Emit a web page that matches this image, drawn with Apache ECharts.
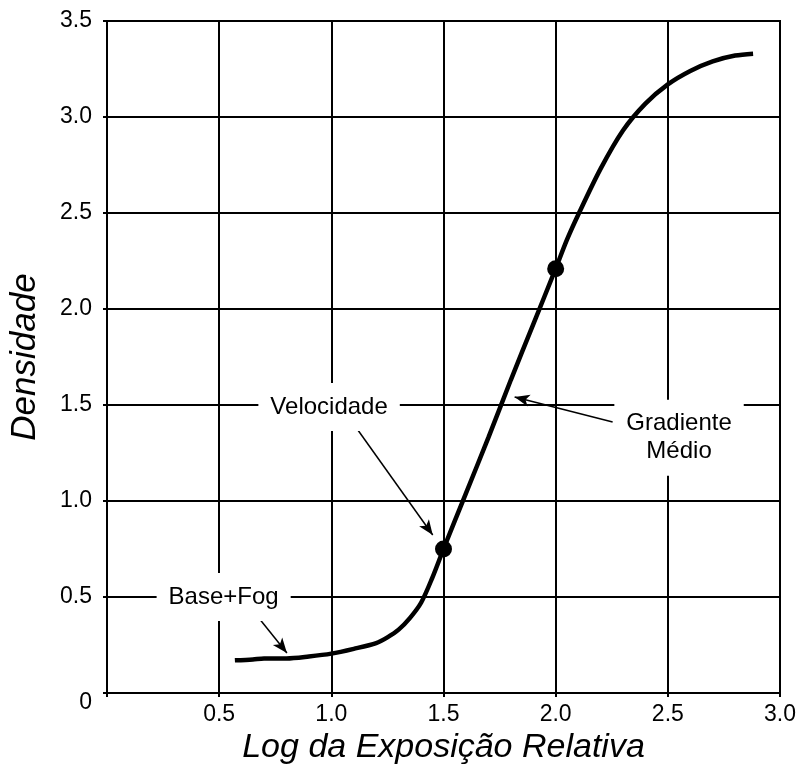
<!DOCTYPE html>
<html>
<head>
<meta charset="utf-8">
<script src="https://cdn.jsdelivr.net/npm/echarts@6/dist/echarts.min.js"></script>
<style>
  html, body { margin: 0; padding: 0; background: #fff; }
  #chart { width: 801px; height: 774px; }
</style>
</head>
<body>
<div id="chart"></div>
<script>
// curva característica (log exposição x densidade)
const logExposure = [0.57, 0.65, 0.7, 0.8, 0.9, 1.0, 1.1, 1.2, 1.25, 1.3, 1.35, 1.4, 1.45, 1.5,
  1.6, 1.7, 1.8, 1.9, 2.0, 2.05, 2.1, 2.2, 2.3, 2.4, 2.5, 2.6, 2.7, 2.8, 2.88]
const density = [0.17, 0.175, 0.18, 0.18, 0.19, 0.205, 0.23, 0.26, 0.29, 0.33, 0.39, 0.47, 0.6, 0.75,
  1.04, 1.33, 1.63, 1.92, 2.21, 2.36, 2.49, 2.73, 2.93, 3.07, 3.17, 3.24, 3.29, 3.32, 3.33]

// pontos marcados (velocidade e gradiente)
const keyX = [1.5, 2.0]
const keyY = [0.75, 2.21]

// rótulos e setas
const labelTexts = ['Velocidade', 'Base+Fog', 'Gradiente\nMédio']
const labelX = [0.99, 0.52, 2.55]
const labelY = [1.49, 0.5, 1.33]
const arrowFrom = [[1.096, 1.406], [0.641, 0.443], [2.254, 1.411]]
const arrowTo = [[1.452, 0.823], [0.802, 0.208], [1.817, 1.542]]

const FONT = 'Liberation Sans, Arial, sans-serif'

const chart = echarts.init(document.getElementById('chart'))

const option = {
  animation: false,
  backgroundColor: '#fff',
  grid: {
    left: 107,
    right: 21,
    top: 21,
    bottom: 81,
    show: true,
    borderColor: '#000',
    borderWidth: 2
  },
  xAxis: {
    type: 'value',
    min: 0,
    max: 3,
    interval: 0.5,
    name: 'Log da Exposição Relativa',
    nameLocation: 'middle',
    nameGap: 38,
    nameTextStyle: { fontFamily: FONT, fontStyle: 'italic', fontSize: 34, color: '#000' },
    axisLine: { lineStyle: { color: '#000', width: 2 } },
    axisTick: { show: true, length: 4, lineStyle: { color: '#000', width: 2 } },
    axisLabel: {
      fontFamily: FONT,
      fontSize: 23,
      color: '#000',
      margin: 10,
      formatter: v => (v === 0 ? '' : v.toFixed(1))
    },
    splitLine: { show: true, lineStyle: { color: '#000', width: 2 } }
  },
  yAxis: {
    type: 'value',
    min: 0,
    max: 3.5,
    interval: 0.5,
    name: 'Densidade',
    nameLocation: 'middle',
    nameGap: 64,
    nameTextStyle: { fontFamily: FONT, fontStyle: 'italic', fontSize: 35, color: '#000' },
    axisLine: { lineStyle: { color: '#000', width: 2 } },
    axisTick: { show: true, length: 4, lineStyle: { color: '#000', width: 2 } },
    axisLabel: {
      fontFamily: FONT,
      fontSize: 23,
      color: '#000',
      margin: 15,
      formatter: v => (v === 0 ? '{zero|0}' : v.toFixed(1)),
      rich: {
        zero: { fontFamily: FONT, fontSize: 23, color: '#000', padding: [20, 0, 0, 0] }
      }
    },
    splitLine: { show: true, lineStyle: { color: '#000', width: 2 } }
  },
  series: [
    {
      type: 'line',
      data: logExposure.map((x, i) => [x, density[i]]),
      smooth: 0.3,
      showSymbol: false,
      lineStyle: { color: '#000', width: 4.5 },
      z: 3,
      markLine: {
        silent: true,
        symbol: ['none', 'arrow'],
        symbolSize: [9, 15],
        label: { show: false },
        lineStyle: { color: '#000', width: 1.5, type: 'solid' },
        data: arrowFrom.map((p, i) => [{ coord: p }, { coord: arrowTo[i] }])
      }
    },
    {
      type: 'scatter',
      data: keyX.map((x, i) => [x, keyY[i]]),
      symbol: 'circle',
      symbolSize: 17,
      itemStyle: { color: '#000', opacity: 1 },
      z: 4
    },
    {
      type: 'scatter',
      data: labelX.map((x, i) => ({ value: [x, labelY[i]], name: labelTexts[i] })),
      symbolSize: 0,
      itemStyle: { opacity: 1 },
      z: 5,
      label: {
        show: true,
        position: 'inside',
        formatter: p => p.name,
        fontFamily: FONT,
        fontSize: 24,
        lineHeight: 28,
        color: '#000',
        opacity: 1,
        backgroundColor: '#fff',
        padding: [10, 12, 10, 12],
        align: 'center'
      }
    }
  ]
}

chart.setOption(option)
</script>
</body>
</html>
